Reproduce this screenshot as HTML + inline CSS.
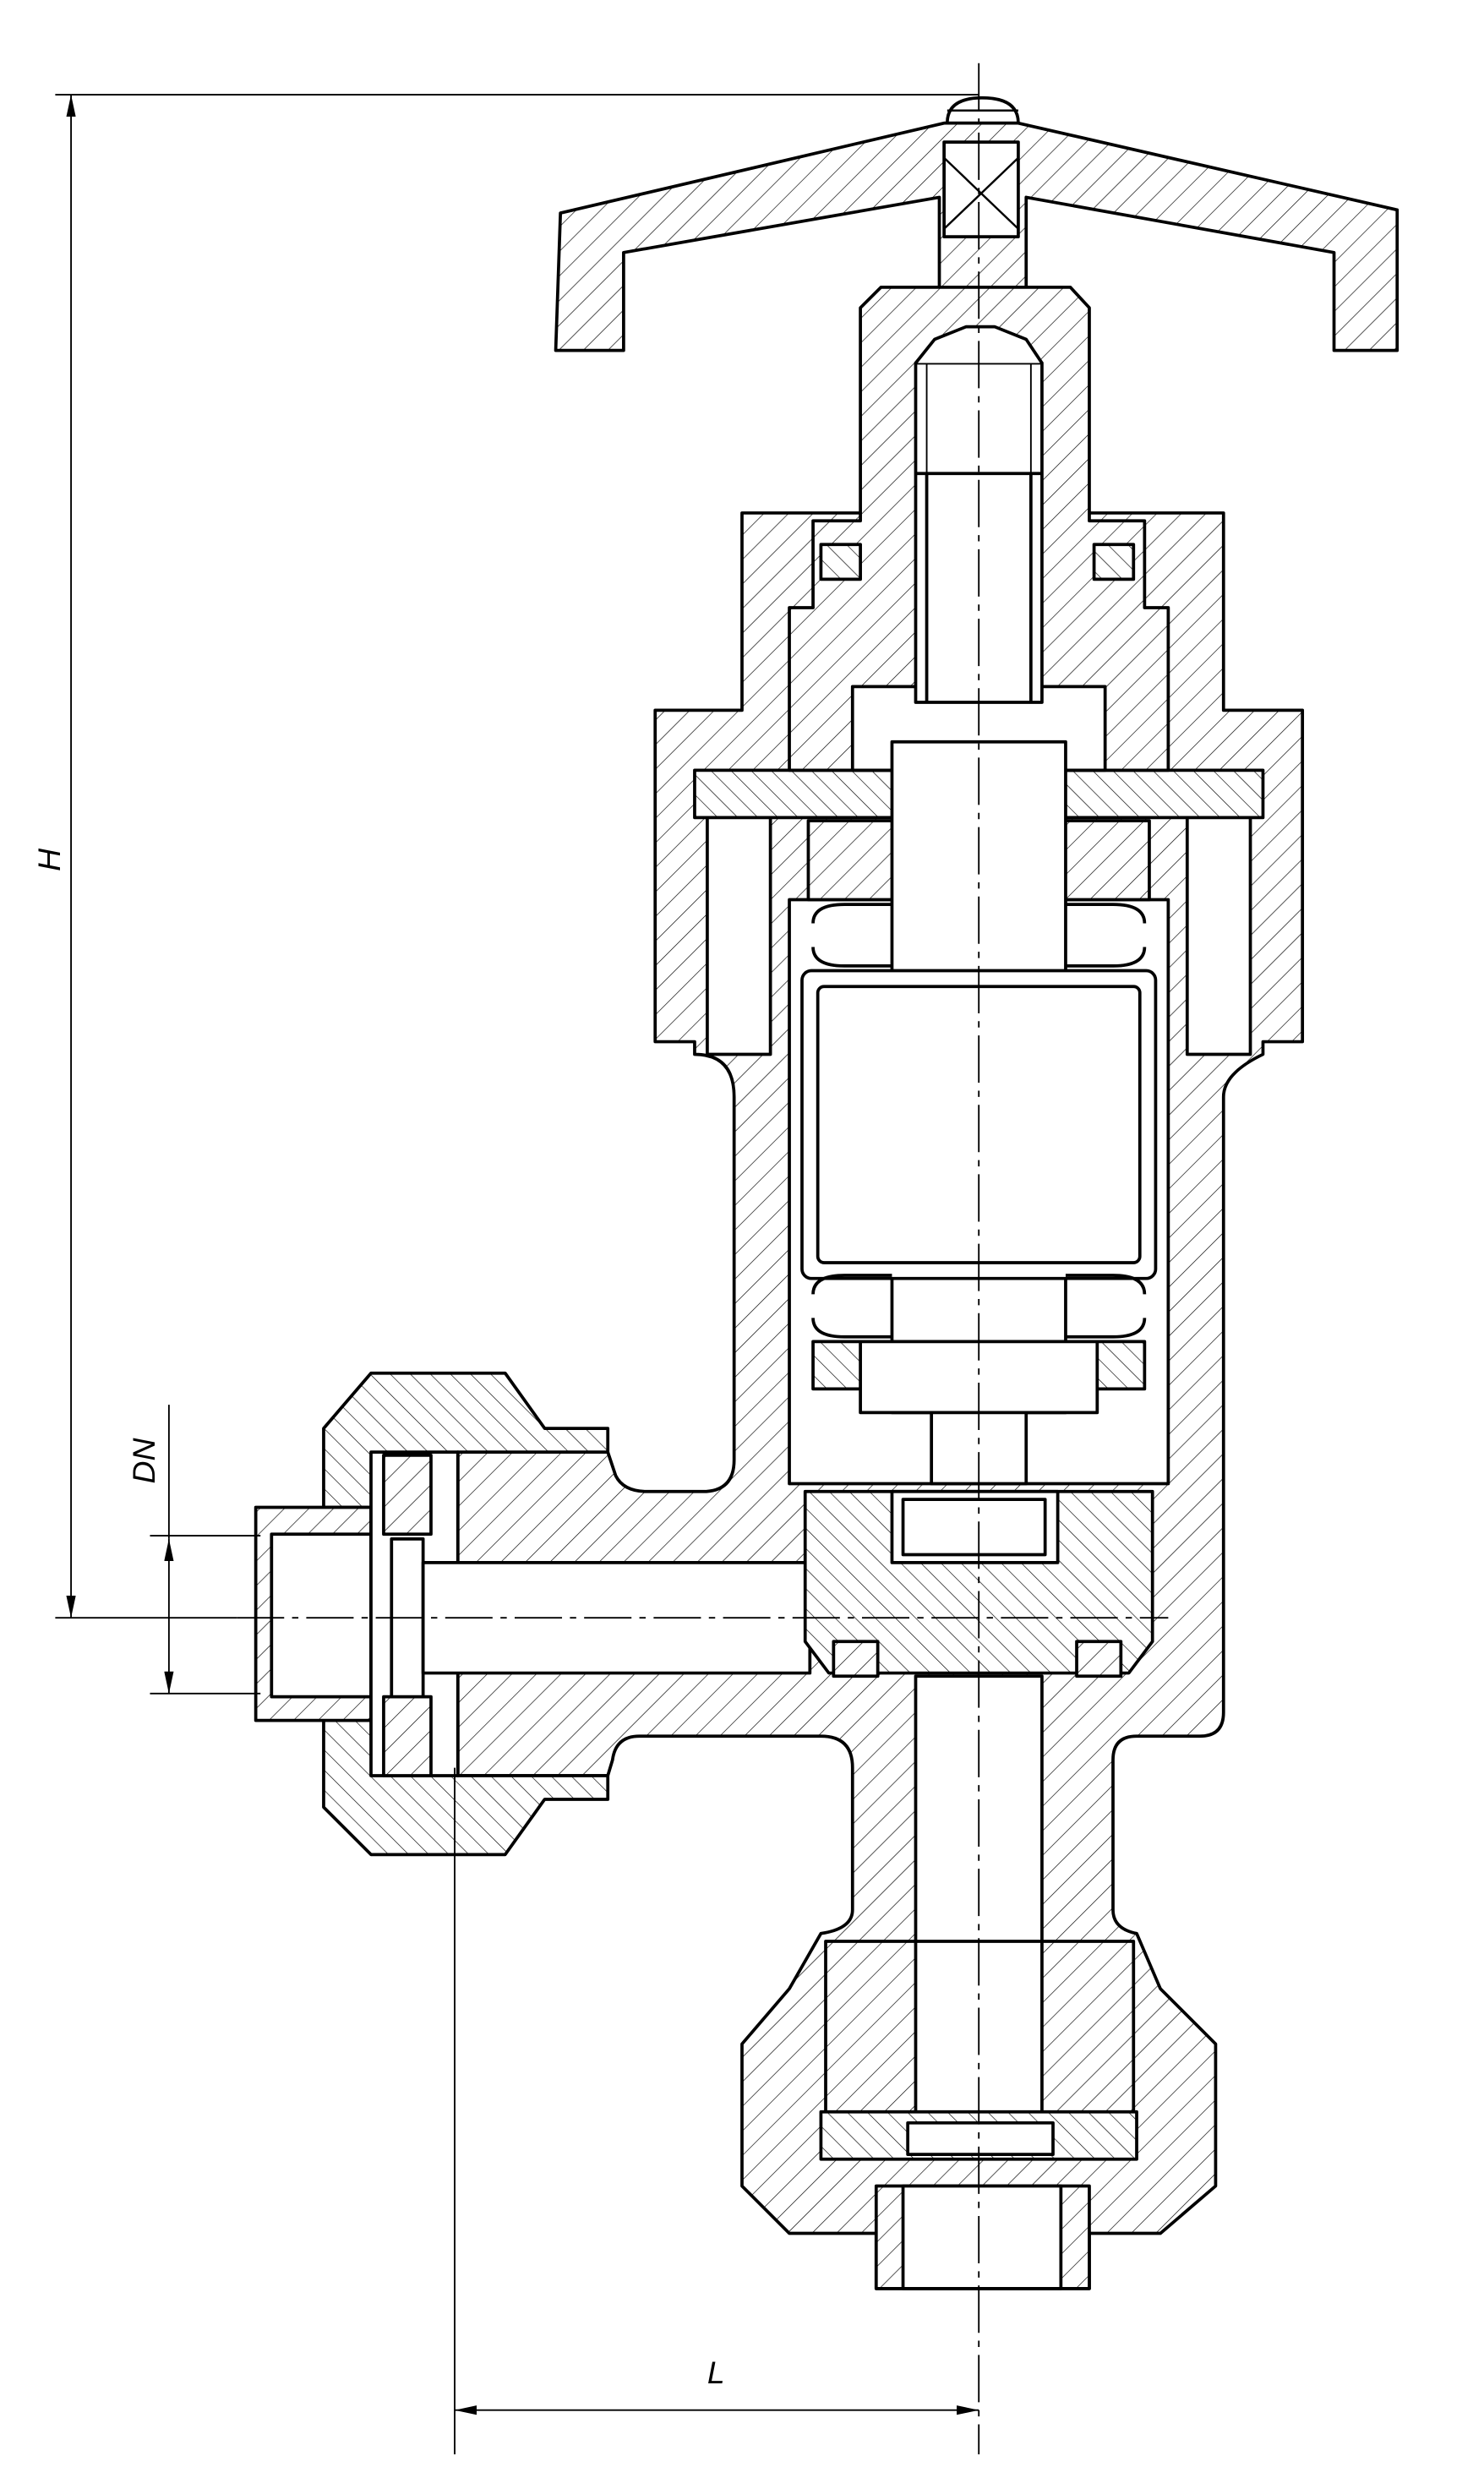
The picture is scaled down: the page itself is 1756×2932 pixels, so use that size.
<!DOCTYPE html>
<html><head><meta charset="utf-8"><style>
html,body{margin:0;padding:0;background:#fff;}
svg{display:block;}
</style></head><body>
<svg width="1756" height="2932" viewBox="0 0 940 1570" preserveAspectRatio="none" xmlns="http://www.w3.org/2000/svg">
<defs>
<pattern id="h" patternUnits="userSpaceOnUse" width="11" height="11" patternTransform="rotate(45)">
<rect x="0" y="0" width="11" height="11" fill="#fff"/>
<line x1="0" y1="0" x2="0" y2="11" stroke="#000" stroke-width="0.7"/>
</pattern>
<pattern id="h2" patternUnits="userSpaceOnUse" width="9" height="9" patternTransform="rotate(-45)">
<rect x="0" y="0" width="9" height="9" fill="#fff"/>
<line x1="0" y1="0" x2="0" y2="9" stroke="#000" stroke-width="0.7"/>
</pattern>
<marker id="a" markerWidth="14" markerHeight="6" refX="14" refY="3" orient="auto-start-reverse" markerUnits="userSpaceOnUse">
<path d="M0,0 L14,3 L0,6 Z" fill="#000"/></marker>
</defs>
<g fill="none" stroke="#000" stroke-width="2" stroke-linejoin="round">

<!-- handwheel -->
<path d="M355,135 L598,78 L645,78 L885,133 L885,222 L845,222 L845,160 L650,125 L650,182 L595,182 L595,125 L395,160 L395,222 L352,222 Z" fill="url(#h)"/>
<rect x="598" y="90" width="47" height="60" fill="#fff"/>
<path d="M598,100 L645,145 M645,100 L598,145" stroke-width="1.3"/>
<path d="M600,78 Q600,62 622,62 Q645,62 645,78 Z" fill="#fff"/>
<line x1="600" y1="70" x2="645" y2="70" stroke-width="1.3"/>

<!-- body silhouette -->
<path d="M470,325 L775,325 L775,450 L825,450 L825,660 L800,660 L800,668 Q775,680 775,695 L775,1085 Q775,1100 760,1100 L720,1100 Q705,1100 705,1115 L705,1210 Q705,1222 720,1225 L735,1260 L770,1295 L770,1385 L735,1415 L690,1415 L690,1450 L555,1450 L555,1415 L500,1415 L470,1385 L470,1295 L500,1260 L520,1225 Q540,1222 540,1210 L540,1120 Q540,1100 520,1100 L405,1100 Q390,1100 388,1115 L385,1125 L290,1125 L290,920 L385,920 L390,935 Q395,945 410,945 L445,945 Q465,945 465,925 L465,695 Q465,668 440,668 L440,660 L415,660 L415,450 L470,450 Z" fill="url(#h)"/>

<!-- left fitting nut -->
<path d="M205,905 L235,870 L320,870 L345,905 L385,905 L385,920 L290,920 L290,955 L205,955 Z" fill="url(#h2)"/>
<path d="M205,1090 L290,1090 L290,1125 L385,1125 L385,1140 L345,1140 L320,1175 L235,1175 L205,1145 Z" fill="url(#h2)"/>
<!-- nipple -->
<rect x="162" y="955" width="73" height="135" fill="url(#h)"/>
<rect x="172" y="972" width="63" height="103" fill="#fff"/>
<rect x="235" y="920" width="55" height="205" fill="#fff"/>
<rect x="243" y="922" width="30" height="50" fill="url(#h)"/>
<rect x="243" y="1075" width="30" height="50" fill="url(#h)"/>
<rect x="248" y="975" width="20" height="100" fill="#fff"/>
<!-- outlet bore -->
<rect x="268" y="990" width="245" height="70" fill="#fff"/>

<!-- upper chamber cavities -->
<rect x="440" y="488" width="360" height="30" fill="url(#h2)"/>
<rect x="448" y="518" width="40" height="150" fill="#fff"/>
<rect x="752" y="518" width="40" height="150" fill="#fff"/>
<rect x="500" y="570" width="240" height="370" fill="#fff"/>
<rect x="512" y="520" width="58" height="50" fill="url(#h)"/>
<rect x="670" y="520" width="58" height="50" fill="url(#h)"/>

<!-- bonnet cap -->
<path d="M545,195 L558,182 L678,182 L690,195 L690,330 L725,330 L725,385 L740,385 L740,488 L500,488 L500,385 L515,385 L515,330 L545,330 Z" fill="url(#h)"/>
<rect x="540" y="435" width="160" height="53" fill="#fff"/>
<rect x="520" y="345" width="25" height="22" fill="url(#h2)"/>
<rect x="693" y="345" width="25" height="22" fill="url(#h2)"/>
<!-- threaded stem top -->
<rect x="580" y="230" width="80" height="215" fill="#fff"/>
<path d="M580,230 L592,215 L612,207 L630,207 L650,215 L660,230" fill="#fff"/>
<path d="M580,300 L660,300 M587,300 L587,445 M653,300 L653,445" />
<path d="M587,230 L587,300 M653,230 L653,300" stroke-width="1"/>

<!-- main stem -->
<rect x="565" y="470" width="110" height="425" fill="#fff"/>
<!-- bellows -->
<rect x="508" y="615" width="224" height="195" rx="6" fill="#fff"/>
<rect x="518" y="625" width="204" height="175" rx="4" fill="#fff"/>
<path d="M515,585 q0,-12 20,-12 h30 M515,600 q0,12 20,12 h30 M725,585 q0,-12 -20,-12 h-30 M725,600 q0,12 -20,12 h-30"/>
<path d="M515,820 q0,-12 20,-12 h30 M515,835 q0,12 20,12 h30 M725,820 q0,-12 -20,-12 h-30 M725,835 q0,12 -20,12 h-30"/>
<!-- stem collar -->
<rect x="515" y="850" width="210" height="30" fill="url(#h2)"/>
<rect x="545" y="850" width="150" height="45" fill="#fff"/>
<rect x="590" y="895" width="60" height="45" fill="#fff"/>

<!-- valve disc block -->
<path d="M510,945 L730,945 L730,1040 L715,1060 L525,1060 L510,1040 Z" fill="url(#h2)"/>
<rect x="565" y="945" width="105" height="45" fill="#fff"/>
<rect x="572" y="950" width="90" height="35" fill="#fff"/>
<rect x="528" y="1040" width="28" height="22" fill="url(#h)"/>
<rect x="682" y="1040" width="28" height="22" fill="url(#h)"/>

<!-- lower bore and stem -->
<rect x="580" y="1062" width="80" height="290" fill="#fff"/>
<rect x="523" y="1230" width="195" height="110" fill="none"/>
<rect x="520" y="1338" width="200" height="30" fill="url(#h2)"/>
<rect x="575" y="1345" width="92" height="20" fill="#fff"/>
<rect x="555" y="1385" width="135" height="65" fill="url(#h)"/>
<rect x="572" y="1385" width="100" height="65" fill="#fff"/>
</g>

<!-- center lines -->
<g stroke="#000" stroke-width="1" stroke-dasharray="30,5,4,5" fill="none">
<line x1="620" y1="40" x2="620" y2="1555"/>
<line x1="150" y1="1025" x2="740" y2="1025"/>
</g>

<!-- dimensions -->
<g stroke="#000" stroke-width="1" fill="none">
<line x1="35" y1="60" x2="620" y2="60"/>
<line x1="35" y1="1025" x2="150" y2="1025"/>
<line x1="45" y1="60" x2="45" y2="1025" marker-start="url(#a)" marker-end="url(#a)"/>
<line x1="95" y1="973" x2="165" y2="973"/>
<line x1="95" y1="1073" x2="165" y2="1073"/>
<line x1="107" y1="890" x2="107" y2="975"/>
<line x1="107" y1="975" x2="107" y2="1073" marker-start="url(#a)" marker-end="url(#a)"/>
<line x1="288" y1="1120" x2="288" y2="1555"/>
<line x1="288" y1="1527" x2="620" y2="1527" marker-start="url(#a)" marker-end="url(#a)"/>
</g>
<g font-family="Liberation Sans, sans-serif" font-style="italic" font-size="20" fill="#000">
<text x="38" y="552" transform="rotate(-90 38 552)">H</text>
<text x="98" y="940" transform="rotate(-90 98 940)">DN</text>
<text x="448" y="1510">L</text>
</g>
</svg>
</body></html>
